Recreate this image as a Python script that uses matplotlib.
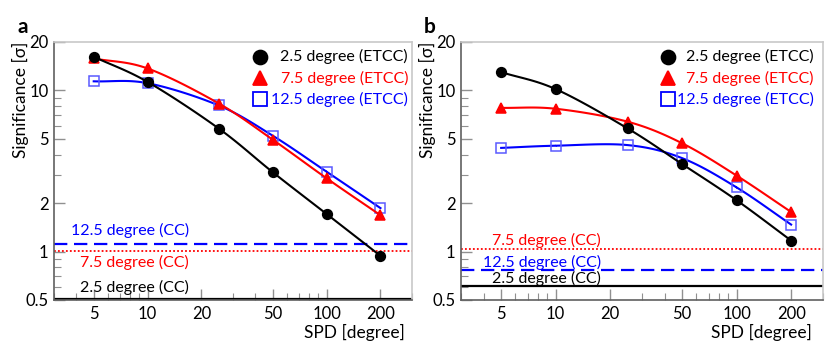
import numpy as np
import matplotlib.pyplot as plt
from matplotlib.ticker import FixedLocator, NullFormatter, FixedFormatter

plt.rcParams['font.family'] = ['Lato', 'DejaVu Sans']

# SPD values [degree]
spd = [5, 10, 25, 50, 100, 200]

# panel a
a_25 = [16.2, 11.3, 5.8, 3.11, 1.71, 0.94]
a_75 = [15.8, 13.7, 8.3, 4.95, 2.85, 1.68]
a_125 = [11.4, 11.1, 8.07, 5.24, 3.13, 1.86]
a_cc = [0.51, 1.01, 1.12]   # 2.5, 7.5, 12.5 degree (CC)

# panel b
b_25 = [13.0, 10.2, 5.81, 3.49, 2.08, 1.17]
b_75 = [7.8, 7.7, 6.4, 4.7, 2.96, 1.76]
b_125 = [4.4, 4.54, 4.58, 3.8, 2.5, 1.47]
b_cc = [0.614, 1.03, 0.77]

x_ticks = [5, 10, 20, 50, 100, 200]
y_ticks = [0.5, 1, 2, 5, 10, 20]


def smooth(x, y, n=20):
    # Catmull-Rom curve through the points, in log-log space
    lx, ly = np.log10(x), np.log10(y)
    px = np.concatenate([[2 * lx[0] - lx[1]], lx, [2 * lx[-1] - lx[-2]]])
    py = np.concatenate([[2 * ly[0] - ly[1]], ly, [2 * ly[-1] - ly[-2]]])
    xs, ys = [], []
    t = np.linspace(0, 1, n)
    for i in range(1, len(px) - 2):
        for p, out in ((px, xs), (py, ys)):
            p0, p1, p2, p3 = p[i - 1], p[i], p[i + 1], p[i + 2]
            out.append(0.5 * (2 * p1 + (-p0 + p2) * t
                              + (2 * p0 - 5 * p1 + 4 * p2 - p3) * t ** 2
                              + (-p0 + 3 * p1 - 3 * p2 + p3) * t ** 3))
    return 10 ** np.concatenate(xs), 10 ** np.concatenate(ys)


def panel(ax, s25, s75, s125, cc, cc_pos, leg_x, txt_x, cc_x):
    ax.set_xscale('log')
    ax.set_yscale('log')
    ax.set_xlim(3, 300)
    ax.set_ylim(0.5, 20)

    # CC levels
    ax.axhline(cc[0], color='black', lw=1.6)
    ax.axhline(cc[1], color='red', lw=1.3, ls=(0, (1, 1.2)))
    ax.axhline(cc[2], color='blue', lw=1.6, ls=(0, (6, 3)))

    for s, c, m, ms, mfc, mec in ((s125, 'blue', 's', 7, 'none', '#5a5aff'),
                                  (s75, 'red', '^', 7, 'red', 'red'),
                                  (s25, 'black', 'o', 7, 'black', 'black')):
        sx, sy = smooth(spd, s)
        ax.plot(sx, sy, color=c, lw=1.5)
        ax.plot(spd, s, ls='none', marker=m, ms=ms, mfc=mfc, mec=mec, mew=1.1)

    # legend
    rows = [('2.5 degree (ETCC)', 'black', 'o', 'black', 'black'),
            ('7.5 degree (ETCC)', 'red', '^', 'red', 'red'),
            ('12.5 degree (ETCC)', 'blue', 's', 'none', 'blue')]
    for i, (lab, c, m, mfc, mec) in enumerate(rows):
        yy = 0.942 - i * 0.082
        ax.plot([leg_x], [yy], transform=ax.transAxes, marker=m, ms=10,
                mfc=mfc, mec=mec, mew=1.3, ls='none', clip_on=False)
        ax.text(txt_x, yy, lab, transform=ax.transAxes, color=c,
                fontsize=11.5, ha='right', va='center')

    labs = ['2.5 degree (CC)', '7.5 degree (CC)', '12.5 degree (CC)']
    cols = ['black', 'red', 'blue']
    for lab, c, yy in zip(labs, cols, cc_pos):
        ax.text(cc_x, yy, lab, transform=ax.transAxes, color=c,
                fontsize=11.5, ha='right', va='center')

    ax.xaxis.set_major_locator(FixedLocator(x_ticks))
    ax.xaxis.set_major_formatter(FixedFormatter([str(v) for v in x_ticks]))
    ax.xaxis.set_minor_locator(FixedLocator([3, 4, 6, 7, 8, 9, 30, 40, 60, 70, 80, 90, 300]))
    ax.xaxis.set_minor_formatter(NullFormatter())
    ax.yaxis.set_major_locator(FixedLocator(y_ticks))
    ax.yaxis.set_major_formatter(FixedFormatter(['0.5', '1', '2', '5', '10', '20']))
    ax.yaxis.set_minor_locator(FixedLocator([0.6, 0.7, 0.8, 0.9, 3, 4, 6, 7, 8, 9]))
    ax.yaxis.set_minor_formatter(NullFormatter())
    ax.tick_params(which='both', direction='in', color='#909090', labelsize=12,
                   top=False, right=False)
    ax.tick_params(which='major', length=8, width=1, pad=4)
    ax.tick_params(which='minor', length=5, width=0.8)
    ax.tick_params(axis='x', pad=4)

    ax.spines['left'].set_color('#606060')
    ax.spines['bottom'].set_color('#606060')
    ax.spines['top'].set_color('#c8c8c8')
    ax.spines['right'].set_color('#c8c8c8')
    for sp in ax.spines.values():
        sp.set_linewidth(1.2)


fig = plt.figure(figsize=(8.3, 3.45), dpi=100)
ax_a = fig.add_axes([54 / 830, 45 / 345, 358 / 830, 258 / 345])
ax_b = fig.add_axes([461 / 830, 45 / 345, 362 / 830, 258 / 345])

panel(ax_a, a_25, a_75, a_125, a_cc, [0.05, 0.147, 0.271], 0.575, 0.989, 0.377)
panel(ax_b, b_25, b_75, b_125, b_cc, [0.085, 0.229, 0.147], 0.571, 0.975, 0.387)

for ax, lx, px in ((ax_a, 405, 23), (ax_b, 812, 430)):
    fig.text(lx / 830, 1 - 332 / 345, 'SPD [degree]', ha='right', va='center', fontsize=12.5)
    fig.text(px / 830, 1 - 27 / 345, 'a' if ax is ax_a else 'b', ha='center',
             va='center', fontsize=15, fontweight='bold')
fig.text(20 / 830, 1 - 42 / 345, 'Significance [σ]', rotation=90, ha='center',
         va='top', fontsize=12.5)
fig.text(427 / 830, 1 - 42 / 345, 'Significance [σ]', rotation=90, ha='center',
         va='top', fontsize=12.5)

fig.savefig('out.png', dpi=100)
